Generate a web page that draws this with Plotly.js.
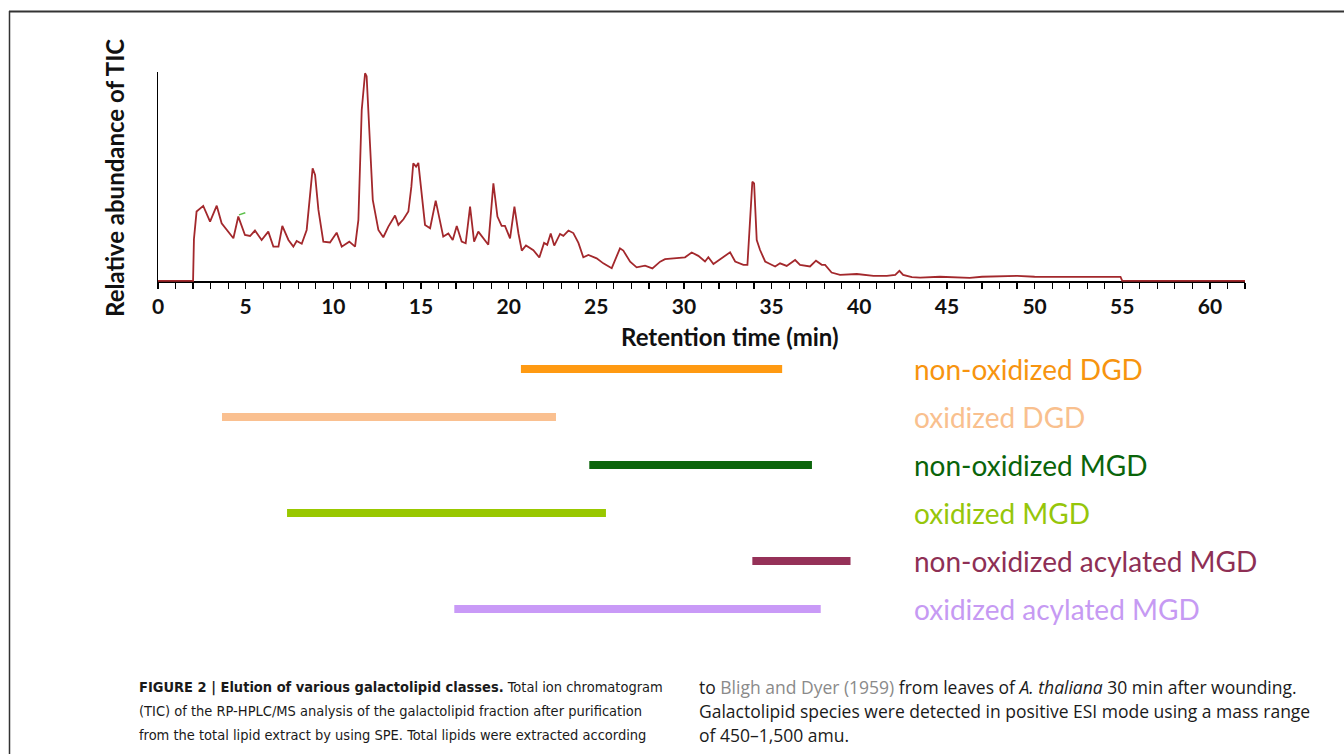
<!DOCTYPE html>
<html>
<head>
<meta charset="utf-8">
<script src="https://cdn.plot.ly/plotly-3.0.1.min.js"></script>
<style>html,body{margin:0;padding:0;background:#fff;}#chart{width:1344px;height:754px;}</style>
</head>
<body>
<div id="chart"></div>
<script>
// Total ion chromatogram: retention time (min) and relative abundance (%)
const retentionTime = [0, 2.0, 2.05, 2.2, 2.58, 2.97, 3.35, 3.63, 4.30, 4.58, 4.96, 5.25, 5.53, 5.91, 6.29, 6.58, 6.87, 7.09, 7.44, 7.72, 7.91, 8.2, 8.48, 8.82, 8.96, 9.15, 9.43, 9.81, 10.19, 10.48, 10.91, 11.24, 11.43, 11.62, 11.81, 11.9, 12.09, 12.25, 12.57, 12.85, 13.14, 13.52, 13.71, 14.0, 14.28, 14.45, 14.56, 14.72, 14.85, 15.04, 15.23, 15.52, 15.84, 16.27, 16.56, 16.81, 17.04, 17.32, 17.55, 17.8, 18.03, 18.27, 18.84, 19.13, 19.36, 19.6, 19.79, 20.08, 20.33, 20.56, 20.75, 20.99, 21.41, 21.75, 22.02, 22.2, 22.4, 22.6, 22.93, 23.12, 23.41, 23.69, 23.98, 24.26, 24.55, 25.02, 25.4, 25.88, 26.35, 26.54, 26.93, 27.3, 27.78, 28.2, 28.64, 28.92, 29.39, 29.68, 30.06, 30.44, 30.82, 31.2, 31.39, 31.68, 32.16, 32.63, 32.92, 33.39, 33.62, 33.77, 33.9, 34.0, 34.15, 34.34, 34.63, 34.91, 35.2, 35.48, 35.86, 36.34, 36.62, 37.19, 37.53, 37.86, 38.05, 38.42, 38.9, 39.86, 40.81, 41.57, 42.05, 42.29, 42.5, 43.0, 43.47, 44.6, 46.0, 46.3, 47.0, 48.8, 49.0, 50.0, 52.0, 54.0, 54.9, 55.0, 62.0];
const ticAbundance = [0, 0, 20, 33.2, 35.9, 28.4, 36.0, 27.6, 20.4, 30.8, 22.0, 21.5, 24.1, 19.6, 23.6, 16.4, 16.4, 26.3, 19.6, 16.4, 19.1, 17.8, 24.4, 53.9, 50.7, 34.0, 18.8, 18.4, 23.1, 16.4, 18.8, 16.4, 29.2, 81.8, 99.4, 98.0, 65.9, 38.8, 24.4, 20.9, 26.0, 31.3, 26.8, 29.5, 33.2, 45.0, 56.3, 54.7, 56.5, 42.0, 26.8, 25.2, 38.4, 21.2, 22.7, 19.6, 26.3, 18.8, 18.0, 35.6, 18.8, 23.6, 17.3, 46.7, 30.8, 26.3, 26.3, 20.4, 35.6, 22.7, 14.5, 17.0, 14.7, 11.2, 18.2, 17.3, 22.7, 16.9, 22.5, 21.6, 24.1, 22.9, 18.2, 11.3, 12.4, 10.8, 8.4, 6.1, 15.6, 14.5, 9.2, 6.5, 7.3, 6.0, 9.2, 10.4, 10.8, 11.3, 11.3, 13.6, 12.0, 9.3, 11.3, 8.1, 10.8, 13.7, 9.3, 7.7, 7.7, 30.8, 47.5, 46.7, 19.6, 14.8, 9.3, 8.1, 6.9, 8.4, 7.2, 10.0, 7.7, 6.9, 9.7, 7.7, 7.7, 4.0, 2.9, 3.3, 2.4, 2.4, 2.9, 4.8, 2.9, 1.8, 1.6, 2.0, 1.8, 1.5, 2.0, 2.1, 2.4, 2.0, 2.0, 1.8, 1.9, 0, 0];
// small green stroke in the original picture
const markTime = [4.62, 4.98];
const markAbundance = [31.6, 32.6];

// Elution ranges of galactolipid classes (min)
const lipidClasses = ['non-oxidized DGD', 'oxidized DGD', 'non-oxidized MGD', 'oxidized MGD', 'non-oxidized acylated MGD', 'oxidized acylated MGD'];
const elutionStart = [20.7, 3.65, 24.6, 7.36, 33.9, 16.9];
const elutionEnd = [35.6, 22.7, 37.3, 25.55, 39.5, 37.8];
const classColors = ['#FF9A12', '#FAC090', '#0B650B', '#99C800', '#953158', '#C99AF7'];
const labelColors = ['#F7940F', '#F9C08E', '#0A640A', '#96C60A', '#8E2F55', '#C69AF3'];

const xTicks = [0, 5, 10, 15, 20, 25, 30, 35, 40, 45, 50, 55, 60];

const W = 1344, H = 754;
const px = v => v / W;
const py = v => 1 - v / H;

const traces = [
  {x: retentionTime, y: ticAbundance, xaxis: 'x', yaxis: 'y', mode: 'lines',
   line: {color: '#A3282C', width: 1.8}, hoverinfo: 'skip'},
  {x: markTime, y: markAbundance, xaxis: 'x', yaxis: 'y', mode: 'lines',
   line: {color: '#5CC04A', width: 1.5}, hoverinfo: 'skip'}
];
lipidClasses.forEach((c, i) => {
  traces.push({x: [elutionStart[i], elutionEnd[i]], y: [i, i], xaxis: 'x', yaxis: 'y2',
    mode: 'lines', line: {color: classColors[i], width: 8}, hoverinfo: 'skip'});
});

const ann = [];
lipidClasses.forEach((c, i) => {
  ann.push({text: c, xref: 'paper', yref: 'y2', x: px(912), y: i, xanchor: 'left', yanchor: 'middle',
    showarrow: false, font: {family: 'Lato, sans-serif', size: 28, color: labelColors[i]}});
});
ann.push({text: '<b>Retention time (min)</b>', xref: 'paper', yref: 'paper', x: px(730), y: py(337),
  xanchor: 'center', yanchor: 'middle', showarrow: false,
  font: {family: 'Lato, sans-serif', size: 24, color: '#111'}});
ann.push({text: '<b>Relative abundance of TIC</b>', xref: 'paper', yref: 'paper', x: px(115), y: py(178),
  xanchor: 'center', yanchor: 'middle', textangle: -90, showarrow: false,
  font: {family: 'Lato, sans-serif', size: 24, color: '#111'}});

const capFontL = {family: '"DejaVu Sans Condensed", sans-serif', size: 14.5, color: '#1a1a1a'};
const capFontR = {family: '"Open Sans", sans-serif', size: 17.5, color: '#1a1a1a'};
const capLeft = [
  '<b>FIGURE 2 | Elution of various galactolipid classes.</b> Total ion chromatogram',
  '(TIC) of the RP-HPLC/MS analysis of the galactolipid fraction after purification',
  'from the total lipid extract by using SPE. Total lipids were extracted according'
];
const capRight = [
  'to <span style="color:#8a8a8a">Bligh and Dyer (1959)</span> from leaves of <i>A. thaliana</i> 30 min after wounding.',
  'Galactolipid species were detected in positive ESI mode using a mass range',
  'of 450–1,500 amu.'
];
const lineY = [687, 711, 735];
capLeft.forEach((t, i) => ann.push({text: t, xref: 'paper', yref: 'paper', x: px(137), y: py(lineY[i]),
  xanchor: 'left', yanchor: 'middle', showarrow: false, font: capFontL}));
capRight.forEach((t, i) => ann.push({text: t, xref: 'paper', yref: 'paper', x: px(697), y: py(lineY[i]),
  xanchor: 'left', yanchor: 'middle', showarrow: false, font: capFontR}));

const layout = {
  width: W, height: H,
  margin: {l: 0, r: 0, t: 0, b: 0},
  paper_bgcolor: '#fff', plot_bgcolor: 'rgba(0,0,0,0)',
  showlegend: false,
  xaxis: {
    domain: [px(158), px(1245)], range: [0, 62], anchor: 'free', position: py(281),
    showgrid: false, zeroline: false, showline: true, linecolor: '#000', linewidth: 1.5,
    ticks: 'outside', ticklen: 6, tickwidth: 1.2, tickcolor: '#000',
    tickvals: xTicks, ticktext: xTicks.map(String),
    minor: {dtick: 1, tick0: 0, ticks: 'outside', ticklen: 6, tickwidth: 1.2, tickcolor: '#000', showgrid: false},
    tickfont: {family: 'Lato, sans-serif', size: 21, color: '#111', weight: 'bold'},
    layer: 'below traces', fixedrange: true
  },
  yaxis: {
    domain: [py(283), py(72)], range: [-1, 100], anchor: 'x',
    showgrid: false, zeroline: false, showline: true, linecolor: '#000', linewidth: 1.5,
    showticklabels: false, ticks: '', fixedrange: true
  },
  yaxis2: {
    domain: [py(633), py(345)], range: [5.5, -0.5], anchor: 'x',
    visible: false, showgrid: false, zeroline: false, fixedrange: true
  },
  annotations: ann,
  shapes: [
    {type: 'line', xref: 'paper', yref: 'paper', x0: px(9), x1: 1, y0: py(11.5), y1: py(11.5), line: {color: '#333', width: 2}},
    {type: 'line', xref: 'paper', yref: 'paper', x0: px(9.5), x1: px(9.5), y0: py(11), y1: 0, line: {color: '#333', width: 1.5}}
  ]
};

Plotly.newPlot('chart', traces, layout, {displayModeBar: false, staticPlot: true});
</script>
</body>
</html>
